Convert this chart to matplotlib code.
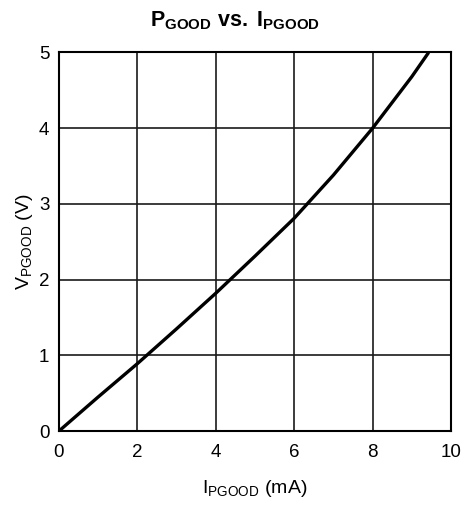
import matplotlib
matplotlib.use("Agg")
import matplotlib.pyplot as plt

i_pgood = [0, 1, 2, 3, 4, 5, 6, 7, 8, 9, 9.43]
v_pgood = [0, 0.45, 0.89, 1.35, 1.82, 2.31, 2.81, 3.38, 4.0, 4.68, 5.0]
x_ticks = [0, 2, 4, 6, 8, 10]
y_ticks = [0, 1, 2, 3, 4, 5]

plt.rcParams['font.family'] = ['Liberation Sans', 'DejaVu Sans']
plt.rcParams['mathtext.fontset'] = 'custom'
plt.rcParams['mathtext.rm'] = 'Liberation Sans'
plt.rcParams['mathtext.it'] = 'Liberation Sans'
plt.rcParams['mathtext.bf'] = 'Liberation Sans:bold'

fig = plt.figure(figsize=(4.67, 5.09), dpi=100)
ax = fig.add_axes([0.1263, 0.1532, 0.8394, 0.7437])

ax.plot(i_pgood, v_pgood, color='black', lw=2.4, solid_capstyle='butt', zorder=3)

ax.set_xlim(0, 10)
ax.set_ylim(0, 5)
ax.set_xticks(x_ticks)
ax.set_yticks(y_ticks)
ax.tick_params(axis='x', length=0, labelsize=13.5, pad=9, colors='black')
ax.tick_params(axis='y', length=0, labelsize=13.5, pad=7, colors='black')
ax.grid(True, color='#1a1a1a', lw=1.2)
ax.set_axisbelow(True)
for s in ax.spines.values():
    s.set_linewidth(1.5)
    s.set_color('black')

fig.text(0.503, 0.9476, r'$\mathbf{P_{GOOD}}$ $\mathbf{vs.}$ $\mathbf{I_{PGOOD}}$',
         fontsize=15.5, ha='center', va='baseline')
ax.set_xlabel(r'$\mathrm{I_{PGOOD}}$ (mA)', fontsize=14, labelpad=12.5)
ax.set_ylabel(r'$\mathrm{V_{PGOOD}}$ (V)', fontsize=14, labelpad=3)

fig.savefig('out.png', dpi=100)
